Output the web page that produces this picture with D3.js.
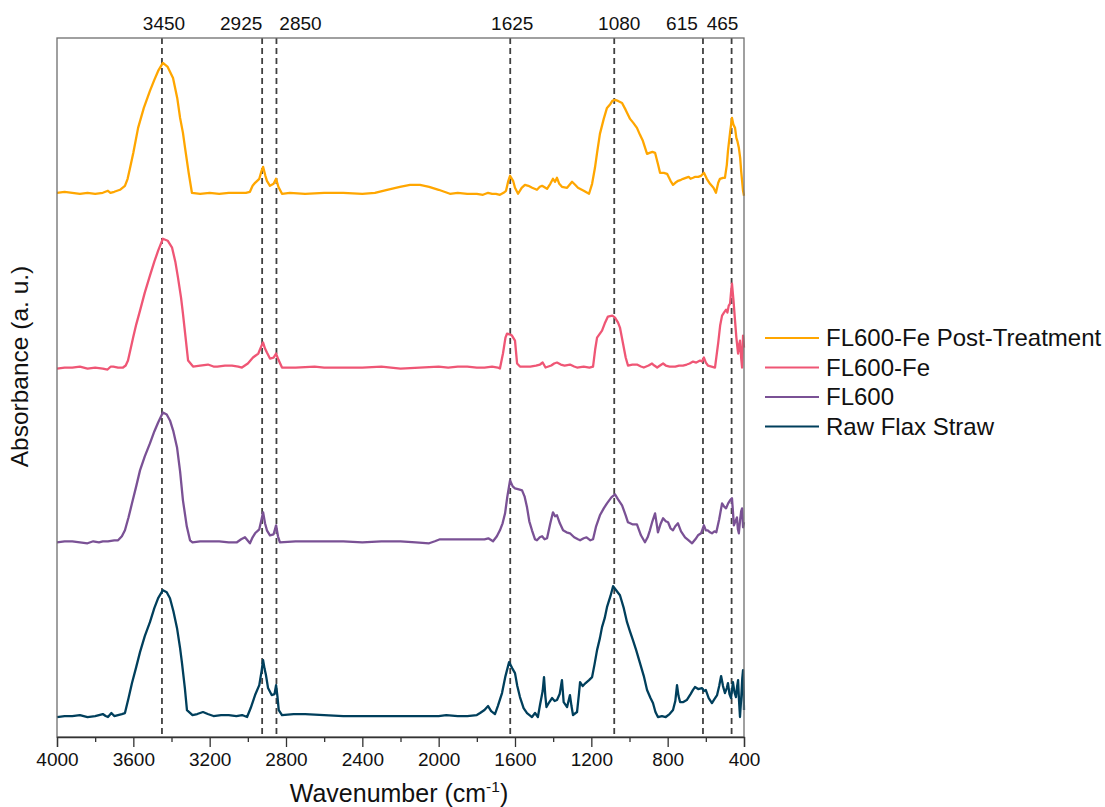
<!DOCTYPE html>
<html>
<head>
<meta charset="utf-8">
<script src="https://cdn.jsdelivr.net/npm/d3@7"></script>
<style>
  html, body { margin: 0; padding: 0; background: #ffffff; }
  svg { display: block; font-family: "Liberation Sans", Arial, sans-serif; }
</style>
</head>
<body>
<svg id="chart" width="1105" height="807"></svg>
<script>
// ---------------- DATA ----------------
const seriesNames = ["FL600-Fe Post-Treatment", "FL600-Fe", "FL600", "Raw Flax Straw"];
const seriesOffsets = [5.45, 3.70, 1.96, 0.21]; // vertical stacking offsets (a. u.)
const peakMarks = [3450, 2925, 2850, 1625, 1080, 615, 465];
const peakLabels = ["3450", "2925", "2850", "1625", "1080", "615", "465"];
const xTickValues = [4000, 3600, 3200, 2800, 2400, 2000, 1600, 1200, 800, 400];
const xMinorTickValues = [3800, 3400, 3000, 2600, 2200, 1800, 1400, 1000, 600];

// [wavenumber cm-1, absorbance relative to series baseline]
const postTreatment = [
  [4000,0.00],[3960,0.01],[3920,0.00],[3880,-0.01],[3840,0.00],[3800,-0.01],[3760,0.00],[3733,0.02],[3720,0.00],[3700,0.01],
  [3670,0.03],[3644,0.07],[3630,0.14],[3617,0.25],[3600,0.40],[3575,0.65],[3545,0.85],[3513,1.02],[3490,1.13],[3470,1.22],
  [3445,1.30],[3420,1.26],[3392,1.15],[3370,0.95],[3355,0.75],[3340,0.60],[3329,0.45],[3310,0.20],[3293,0.00],[3250,-0.01],
  [3200,0.00],[3150,-0.01],[3100,0.00],[3050,0.00],[3010,0.00],[2989,0.01],[2975,0.07],[2962,0.10],[2940,0.14],[2928,0.22],
  [2920,0.26],[2908,0.17],[2900,0.12],[2884,0.07],[2865,0.09],[2852,0.14],[2840,0.06],[2821,-0.01],[2780,0.00],[2700,-0.01],
  [2600,0.00],[2500,0.00],[2400,-0.01],[2334,0.00],[2270,0.03],[2203,0.06],[2150,0.08],[2098,0.08],[2050,0.06],[2000,0.03],
  [1941,-0.01],[1900,0.00],[1850,-0.01],[1800,-0.01],[1768,-0.02],[1741,0.00],[1720,-0.01],[1700,-0.01],[1679,-0.02],[1660,0.00],
  [1647,0.02],[1635,0.12],[1626,0.17],[1610,0.12],[1600,0.05],[1584,-0.01],[1565,0.05],[1548,0.08],[1530,0.07],[1510,0.05],
  [1485,0.03],[1470,0.06],[1458,0.07],[1432,0.04],[1415,0.09],[1401,0.14],[1390,0.11],[1380,0.15],[1368,0.09],[1354,0.06],
  [1327,0.05],[1301,0.11],[1285,0.08],[1270,0.05],[1240,0.02],[1212,-0.01],[1196,0.09],[1181,0.25],[1170,0.40],[1155,0.59],
  [1135,0.74],[1118,0.85],[1100,0.89],[1090,0.92],[1076,0.93],[1060,0.92],[1039,0.90],[1020,0.83],[997,0.74],[980,0.70],
  [961,0.65],[945,0.58],[930,0.52],[908,0.39],[895,0.40],[880,0.41],[866,0.40],[850,0.28],[840,0.20],[820,0.20],
  [803,0.19],[785,0.12],[772,0.08],[760,0.10],[745,0.12],[730,0.13],[719,0.14],[705,0.15],[690,0.16],[680,0.14],
  [667,0.15],[655,0.16],[640,0.16],[625,0.17],[610,0.20],[595,0.14],[578,0.09],[560,0.05],[547,0.00],[535,0.10],
  [526,0.14],[510,0.15],[500,0.15],[490,0.28],[484,0.42],[472,0.62],[463,0.75],[455,0.68],[447,0.65],[440,0.55],
  [435,0.52],[427,0.45],[420,0.35],[415,0.22],[405,0.02],[400,-0.03]
];
const fl600Fe = [
  [4000,-0.01],[3960,0.00],[3920,0.00],[3880,0.01],[3840,-0.01],[3800,0.00],[3760,-0.01],[3735,-0.02],[3718,0.01],[3705,0.01],
  [3680,0.00],[3654,0.00],[3640,0.02],[3628,0.07],[3615,0.18],[3601,0.30],[3585,0.43],[3565,0.57],[3540,0.75],[3513,0.92],
  [3490,1.06],[3470,1.17],[3445,1.29],[3420,1.27],[3397,1.20],[3380,1.06],[3366,0.90],[3350,0.70],[3340,0.54],[3325,0.28],
  [3313,0.07],[3287,0.01],[3250,0.02],[3209,0.03],[3180,0.01],[3160,0.01],[3120,0.02],[3083,0.02],[3050,0.01],[3031,0.00],
  [3000,0.04],[2973,0.10],[2945,0.14],[2928,0.22],[2920,0.25],[2910,0.19],[2900,0.15],[2884,0.09],[2865,0.10],[2852,0.14],
  [2840,0.08],[2821,0.00],[2750,0.00],[2650,0.01],[2600,0.00],[2500,0.00],[2400,0.00],[2300,0.01],[2200,-0.01],[2100,0.00],
  [2000,0.01],[1950,0.00],[1900,0.01],[1850,0.01],[1800,0.00],[1760,0.00],[1720,0.01],[1690,0.00],[1679,-0.01],[1663,0.14],
  [1650,0.30],[1642,0.34],[1625,0.33],[1616,0.32],[1600,0.27],[1589,0.04],[1574,0.01],[1550,0.01],[1520,0.01],[1490,0.02],
  [1469,0.03],[1455,0.05],[1440,0.00],[1410,0.02],[1395,0.04],[1380,0.05],[1360,0.03],[1340,0.02],[1312,0.03],[1290,0.01],
  [1275,0.00],[1240,0.01],[1210,0.00],[1191,0.01],[1180,0.18],[1170,0.30],[1144,0.37],[1130,0.44],[1113,0.51],[1090,0.52],
  [1076,0.50],[1060,0.45],[1050,0.40],[1034,0.24],[1020,0.10],[1008,0.02],[985,0.03],[961,0.03],[940,0.01],[925,0.00],
  [900,0.02],[882,0.04],[870,0.02],[855,0.00],[840,0.02],[824,0.04],[810,0.02],[790,0.01],[760,0.01],[740,0.02],
  [720,0.02],[700,0.03],[685,0.04],[667,0.06],[650,0.05],[630,0.07],[620,0.06],[610,0.10],[600,0.05],[589,0.02],
  [570,0.01],[552,0.00],[535,0.25],[525,0.42],[515,0.52],[505,0.55],[494,0.58],[487,0.55],[480,0.62],[473,0.64],
  [468,0.75],[463,0.84],[455,0.67],[447,0.47],[440,0.30],[431,0.14],[426,0.22],[421,0.27],[415,0.10],[410,0.00],
  [405,0.32],[400,0.20]
];
const fl600 = [
  [4000,-0.01],[3960,0.00],[3920,0.00],[3880,-0.01],[3840,-0.02],[3810,0.00],[3780,-0.01],[3760,0.00],[3733,0.00],[3700,0.01],
  [3680,0.01],[3660,0.05],[3644,0.11],[3625,0.24],[3607,0.38],[3585,0.55],[3565,0.71],[3540,0.85],[3513,0.98],[3490,1.10],
  [3470,1.19],[3445,1.29],[3425,1.27],[3408,1.21],[3390,1.10],[3371,0.94],[3355,0.70],[3340,0.41],[3320,0.15],[3303,0.01],
  [3290,-0.01],[3250,0.00],[3200,0.00],[3150,0.00],[3100,-0.01],[3057,-0.01],[3035,0.02],[3015,0.04],[2989,-0.02],[2975,0.04],
  [2962,0.08],[2940,0.12],[2928,0.22],[2920,0.29],[2910,0.18],[2900,0.11],[2884,0.06],[2865,0.07],[2852,0.16],[2842,0.05],
  [2832,-0.01],[2750,0.00],[2650,0.00],[2600,0.00],[2500,0.00],[2400,-0.01],[2300,0.00],[2200,0.00],[2120,-0.01],[2050,-0.02],
  [2020,0.00],[1993,0.02],[1950,0.02],[1900,0.02],[1850,0.02],[1800,0.02],[1760,0.02],[1740,0.03],[1715,0.00],[1695,0.05],
  [1679,0.11],[1665,0.18],[1652,0.28],[1640,0.45],[1626,0.61],[1612,0.55],[1600,0.53],[1580,0.52],[1563,0.51],[1550,0.45],
  [1537,0.34],[1525,0.20],[1511,0.11],[1495,0.02],[1485,0.01],[1470,0.04],[1458,0.05],[1445,0.02],[1432,0.03],[1415,0.18],
  [1401,0.29],[1390,0.25],[1380,0.26],[1365,0.18],[1348,0.11],[1330,0.09],[1312,0.08],[1290,0.04],[1270,0.02],[1259,0.01],
  [1240,0.03],[1225,0.04],[1205,0.01],[1191,0.02],[1175,0.15],[1155,0.26],[1135,0.33],[1118,0.38],[1095,0.44],[1076,0.47],
  [1060,0.42],[1039,0.36],[1020,0.26],[1008,0.19],[985,0.17],[961,0.17],[940,0.06],[919,-0.01],[905,0.04],[893,0.11],
  [880,0.20],[866,0.28],[858,0.18],[851,0.09],[838,0.17],[824,0.23],[810,0.20],[798,0.19],[785,0.13],[772,0.11],
  [760,0.15],[746,0.18],[730,0.10],[709,0.04],[690,0.01],[672,-0.02],[655,0.02],[641,0.06],[625,0.08],[610,0.16],
  [600,0.11],[590,0.11],[578,0.09],[568,0.08],[555,0.10],[545,0.09],[530,0.22],[515,0.38],[505,0.35],[494,0.33],
  [483,0.38],[473,0.41],[463,0.43],[458,0.30],[453,0.16],[445,0.20],[437,0.24],[432,0.12],[427,0.08],[420,0.22],
  [415,0.30],[410,0.33],[405,0.14],[400,0.19]
];
const rawFlax = [
  [4000,-0.01],[3960,0.00],[3920,0.00],[3880,0.01],[3840,-0.01],[3800,0.00],[3760,0.02],[3745,0.00],[3733,-0.01],[3715,0.03],
  [3700,0.00],[3680,0.01],[3660,0.02],[3644,0.03],[3625,0.18],[3607,0.33],[3585,0.49],[3565,0.64],[3540,0.80],[3513,0.94],
  [3490,1.08],[3470,1.18],[3445,1.26],[3425,1.24],[3408,1.18],[3390,1.05],[3371,0.88],[3355,0.68],[3345,0.53],[3330,0.28],
  [3319,0.06],[3290,0.01],[3265,0.02],[3235,0.04],[3210,0.02],[3180,0.00],[3140,0.01],[3100,0.01],[3060,0.00],[3030,0.01],
  [3004,-0.01],[2985,0.08],[2962,0.21],[2940,0.31],[2928,0.45],[2920,0.56],[2912,0.47],[2905,0.41],[2894,0.28],[2875,0.21],
  [2860,0.22],[2852,0.31],[2845,0.20],[2838,0.06],[2821,0.01],[2760,0.02],[2700,0.02],[2600,0.01],[2500,0.00],[2400,0.00],
  [2300,0.00],[2200,0.00],[2100,0.00],[2000,0.00],[1960,0.01],[1900,0.00],[1850,0.00],[1800,0.01],[1783,0.03],[1760,0.06],
  [1741,0.10],[1725,0.05],[1705,0.02],[1690,0.10],[1668,0.23],[1650,0.40],[1631,0.54],[1615,0.48],[1600,0.43],[1588,0.30],
  [1574,0.19],[1555,0.08],[1537,0.03],[1511,-0.01],[1495,0.03],[1480,-0.01],[1469,0.11],[1455,0.25],[1448,0.39],[1441,0.20],
  [1435,0.09],[1420,0.14],[1406,0.18],[1392,0.15],[1380,0.16],[1366,0.22],[1354,0.36],[1345,0.14],[1327,0.09],[1312,0.21],
  [1304,0.10],[1296,0.01],[1275,0.04],[1265,0.22],[1259,0.34],[1245,0.30],[1230,0.33],[1212,0.36],[1196,0.39],[1183,0.52],
  [1170,0.66],[1155,0.78],[1144,0.89],[1130,0.98],[1118,1.09],[1100,1.20],[1086,1.30],[1070,1.26],[1050,1.21],[1030,1.08],
  [1013,0.94],[998,0.85],[982,0.76],[965,0.66],[945,0.53],[925,0.40],[908,0.26],[890,0.18],[877,0.13],[864,0.04],
  [851,-0.01],[830,0.00],[810,-0.01],[790,0.02],[772,0.06],[760,0.15],[751,0.31],[743,0.20],[735,0.14],[718,0.14],
  [700,0.16],[680,0.22],[668,0.26],[657,0.29],[640,0.27],[620,0.28],[610,0.25],[600,0.26],[585,0.18],[568,0.13],
  [555,0.17],[541,0.21],[530,0.30],[520,0.40],[510,0.30],[500,0.23],[490,0.28],[484,0.33],[476,0.22],[468,0.18],
  [463,0.26],[458,0.34],[450,0.24],[442,0.19],[436,0.30],[431,0.36],[426,0.15],[421,-0.01],[414,0.20],[409,0.38],
  [405,0.46],[402,0.25],[400,0.06]
];
const spectra = [postTreatment, fl600Fe, fl600, rawFlax];

// ---------------- LAYOUT / STYLE ----------------
const seriesColors = ["#ffa600", "#ef5675", "#7a5195", "#003f5c"];
const labelNudge = [2, -21, 24, 2, 5, -21, -9];
const plot = { left: 57, right: 744, top: 38, bottom: 737 };

const svg = d3.select("#chart");

const x = d3.scaleLinear().domain([4000, 400]).range([plot.left, plot.right]);
const y = d3.scaleLinear().domain([0, 7]).range([plot.bottom, plot.top]);

// dashed reference lines
svg.append("g").selectAll("line").data(peakMarks).join("line")
  .attr("x1", d => x(d)).attr("x2", d => x(d))
  .attr("y1", plot.top).attr("y2", plot.bottom)
  .attr("stroke", "#404040").attr("stroke-width", 1.8)
  .attr("stroke-dasharray", "6,4");

// peak labels on top
svg.append("g").selectAll("text").data(peakMarks).join("text")
  .attr("x", (d, i) => x(d) + labelNudge[i])
  .attr("y", 30)
  .attr("text-anchor", "middle")
  .attr("font-size", 19)
  .attr("fill", "#111")
  .text((d, i) => peakLabels[i]);

// spectra
const line = d3.line()
  .x(d => x(d[0]))
  .y(d => y(d[1]));

svg.append("g").selectAll("path").data(spectra).join("path")
  .attr("d", (s, i) => line(s.map(p => [p[0], p[1] + seriesOffsets[i]])))
  .attr("fill", "none")
  .attr("stroke", (s, i) => seriesColors[i])
  .attr("stroke-width", 2.3)
  .attr("stroke-linejoin", "round");

// frame
svg.append("rect")
  .attr("x", plot.left).attr("y", plot.top)
  .attr("width", plot.right - plot.left).attr("height", plot.bottom - plot.top)
  .attr("fill", "none").attr("stroke", "#6e6e6e").attr("stroke-width", 1.3);

// x axis (major)
const xAxis = d3.axisBottom(x).tickValues(xTickValues).tickSize(10).tickPadding(6)
  .tickFormat(d3.format("d"));
const gx = svg.append("g").attr("transform", `translate(0,${plot.bottom})`).call(xAxis);
gx.select(".domain").attr("stroke", "#333").attr("stroke-width", 1.3);
gx.selectAll(".tick line").attr("stroke", "#333").attr("stroke-width", 1.3);
gx.selectAll(".tick text").attr("font-size", 19).attr("fill", "#111")
  .attr("font-family", "Liberation Sans, Arial, sans-serif");

// x axis (minor)
const gxm = svg.append("g").attr("transform", `translate(0,${plot.bottom})`)
  .call(d3.axisBottom(x).tickValues(xMinorTickValues).tickSize(5).tickFormat(""));
gxm.select(".domain").remove();
gxm.selectAll(".tick line").attr("stroke", "#333").attr("stroke-width", 1.3);

// x axis title
const xt = svg.append("text")
  .attr("x", 399).attr("y", 802)
  .attr("text-anchor", "middle").attr("font-size", 25).attr("fill", "#111");
xt.append("tspan").text("Wavenumber (cm");
xt.append("tspan").attr("font-size", 15.5).attr("dy", -10).text("-1");
xt.append("tspan").attr("dy", 10).text(")");

// y axis title
svg.append("text")
  .attr("transform", `translate(28,${(plot.top + plot.bottom) / 2 - 21}) rotate(-90)`)
  .attr("text-anchor", "middle").attr("font-size", 24.5).attr("fill", "#111")
  .text("Absorbance (a. u.)");

// legend
const legend = svg.append("g").attr("transform", "translate(765,338)");
const rows = legend.selectAll("g").data(seriesNames).join("g")
  .attr("transform", (d, i) => `translate(0,${i * 29.5})`);
rows.append("line").attr("x1", 0).attr("x2", 54).attr("y1", 0).attr("y2", 0)
  .attr("stroke", (d, i) => seriesColors[i]).attr("stroke-width", 2.2);
rows.append("text").attr("x", 61).attr("y", 0).attr("dy", "0.35em")
  .attr("font-size", 24).attr("fill", "#111").text(d => d);
</script>
</body>
</html>
